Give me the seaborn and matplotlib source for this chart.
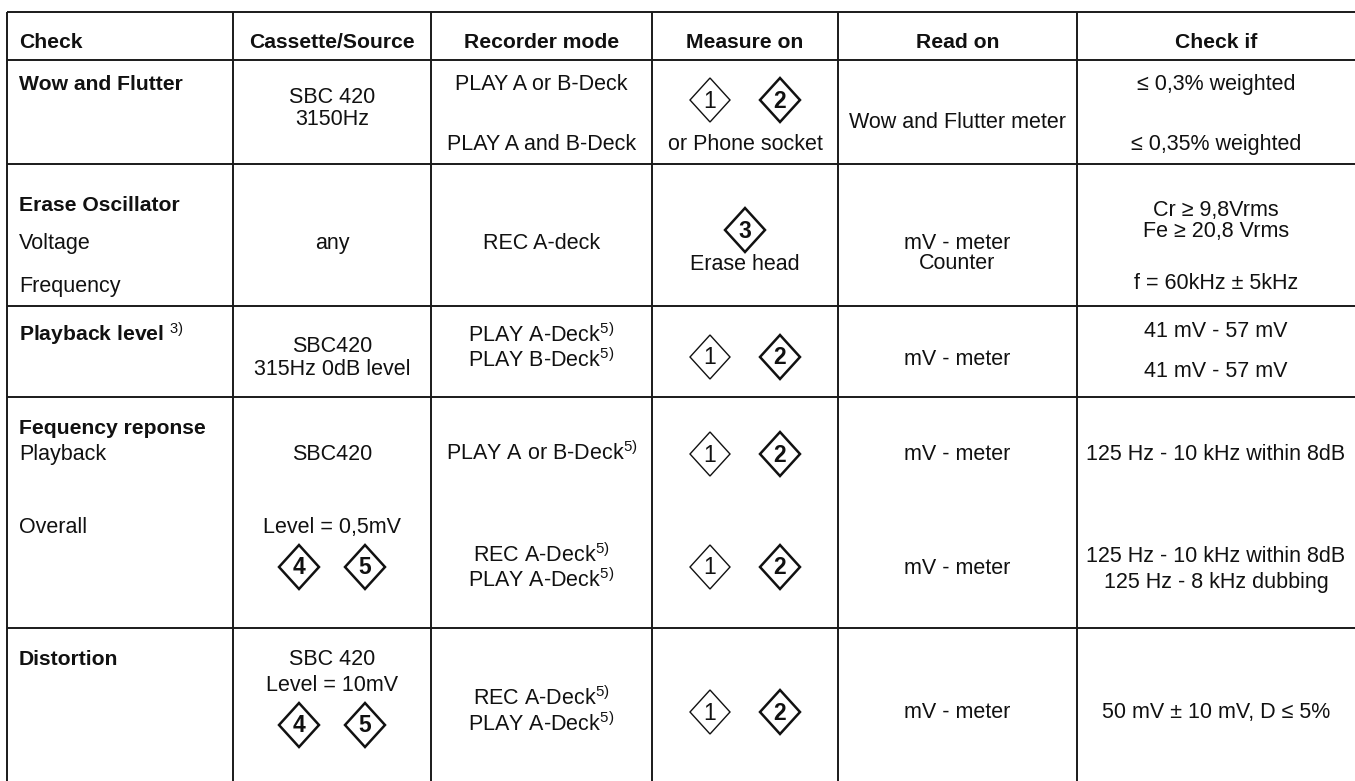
import matplotlib
matplotlib.use("Agg")
import matplotlib.pyplot as plt
from matplotlib.patches import Polygon
import seaborn as sns

# ---- table content ----
headers = ["Check", "Cassette/Source", "Recorder mode", "Measure on", "Read on", "Check if"]

S5 = r"$^{\mathrm{5)}}$"

check_text = [
    ["Wow and Flutter"],
    ["Erase Oscillator", "Voltage", "Frequency"],
    [r"Playback level $^{\mathrm{3)}}$"],
    ["Fequency reponse", "Playback", "Overall"],
    ["Distortion"],
]
source_text = [
    ["SBC 420", "3150Hz"],
    ["any"],
    ["SBC420", "315Hz 0dB level"],
    ["SBC420", "Level = 0,5mV"],
    ["SBC 420", "Level = 10mV"],
]
mode_text = [
    ["PLAY A or B-Deck", "PLAY A and B-Deck"],
    ["REC A-deck"],
    ["PLAY A-Deck" + S5, "PLAY B-Deck" + S5],
    ["PLAY A or B-Deck" + S5, "REC A-Deck" + S5, "PLAY A-Deck" + S5],
    ["REC A-Deck" + S5, "PLAY A-Deck" + S5],
]
measure_text = [["or Phone socket"], ["Erase head"], [], [], []]
read_text = [
    ["Wow and Flutter meter"],
    ["mV - meter", "Counter"],
    ["mV - meter"],
    ["mV - meter", "mV - meter"],
    ["mV - meter"],
]
checkif_text = [
    ["≤ 0,3% weighted", "≤ 0,35% weighted"],
    ["Cr ≥ 9,8Vrms", "Fe ≥ 20,8 Vrms", "f = 60kHz ± 5kHz"],
    ["41 mV - 57 mV", "41 mV - 57 mV"],
    ["125 Hz - 10 kHz within 8dB", "125 Hz - 10 kHz within 8dB", "125 Hz - 8 kHz dubbing"],
    ["50 mV ± 10 mV, D ≤ 5%"],
]
# numbered test points (diamond symbols)
source_marks = [[], [], [], [["4", "5"]], [["4", "5"]]]
measure_marks = [[["1", "2"]], [["3"]], [["1", "2"]], [["1", "2"], ["1", "2"]], [["1", "2"]]]

# ---- layout (pixels) ----
col_edges = [7, 233, 431, 652, 838, 1077, 1355]
row_edges = [12, 60, 164, 306, 397, 628, 781]
header_y = 48
check_y = [[90], [211, 249, 292], [342], [434, 460, 533], [665]]
source_y = [[103, 125], [249], [352, 375], [460, 533], [665, 691]]
mode_y = [[90, 150], [249], [342, 367], [460, 562, 587], [705, 731]]
measure_y = [[150], [270], [], [], []]
read_y = [[128], [249, 269], [365], [460, 574], [718]]
checkif_y = [[90, 150], [216, 237, 289], [337, 377], [460, 562, 588], [718]]
source_mark_y = [[], [], [], [567], [725]]
measure_mark_y = [[100], [230], [357], [454, 567], [712]]

FS = 15.5
FS_B = 15.2
INK = "#111111"

sns.set_theme(style="white")
plt.rcParams["font.family"] = ["Liberation Sans", "DejaVu Sans"]
plt.rcParams["mathtext.fontset"] = "custom"
plt.rcParams["mathtext.rm"] = "Liberation Sans"
plt.rcParams["mathtext.it"] = "Liberation Sans:italic"
plt.rcParams["mathtext.bf"] = "Liberation Sans:bold"

fig = plt.figure(figsize=(13.55, 7.81), dpi=100)
ax = fig.add_axes([0, 0, 1, 1])
ax.set_xlim(0, 1355)
ax.set_ylim(781, 0)
ax.axis("off")

# grid lines
ax.hlines(row_edges[:-1], col_edges[0], col_edges[-1], color="#1a1a1a", lw=1.4)
ax.vlines(col_edges[:-1], row_edges[0], row_edges[-1], color="#1a1a1a", lw=1.4)

centers = [(a + b) / 2 for a, b in zip(col_edges[:-1], col_edges[1:])]
left_x = col_edges[0] + 12


def diamond(x, y, label):
    bold = label != "1"
    w, h = 20, 22
    ax.add_patch(Polygon([(x - w, y), (x, y - h), (x + w, y), (x, y + h)], closed=True,
                         fill=False, ec=INK, lw=1.8 if bold else 1.0, joinstyle="miter"))
    ax.text(x, y + 1, label, ha="center", va="center", fontsize=FS + 1, color=INK,
            fontweight="bold" if bold else "normal")


# header
for i, h in enumerate(headers):
    if i == 0:
        ax.text(left_x, header_y, h, ha="left", va="baseline", fontsize=FS_B, fontweight="bold", color=INK)
    else:
        ax.text(centers[i], header_y, h, ha="center", va="baseline", fontsize=FS_B, fontweight="bold", color=INK)

# first column (left aligned, test name bold)
for r, (lines, ys) in enumerate(zip(check_text, check_y)):
    for k, (s, y) in enumerate(zip(lines, ys)):
        ax.text(left_x, y, s, ha="left", va="baseline", color=INK,
                fontsize=FS_B if k == 0 else FS, fontweight="bold" if k == 0 else "normal")

# other columns (centered)
for c, (texts, ypos) in enumerate([(source_text, source_y), (mode_text, mode_y), (measure_text, measure_y),
                                   (read_text, read_y), (checkif_text, checkif_y)], start=1):
    for lines, ys in zip(texts, ypos):
        for s, y in zip(lines, ys):
            ax.text(centers[c], y, s, ha="center", va="baseline", fontsize=FS, color=INK)

# diamonds
for c, (marks, ypos, dx) in [(1, (source_marks, source_mark_y, 33)), (3, (measure_marks, measure_mark_y, 35))]:
    for groups, ys in zip(marks, ypos):
        for g, y in zip(groups, ys):
            if len(g) == 1:
                diamond(centers[c], y, g[0])
            else:
                diamond(centers[c] - dx, y, g[0])
                diamond(centers[c] + dx, y, g[1])

fig.savefig("out.png", dpi=100, facecolor="white")
